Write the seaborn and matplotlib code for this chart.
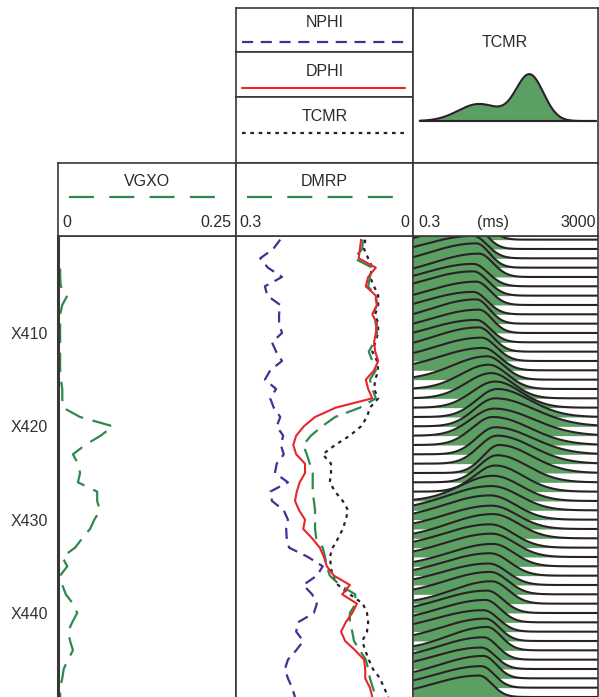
import numpy as np
import pandas as pd
import matplotlib
matplotlib.use("Agg")
import matplotlib.pyplot as plt
import seaborn as sns

# --- log curves, one value per foot (X400 .. X449) ---
depth = list(range(400, 450))

nphi = [0.225, 0.237, 0.259, 0.246, 0.222, 0.251, 0.247, 0.225, 0.227, 0.227,
        0.222, 0.239, 0.232, 0.222, 0.242, 0.251, 0.232, 0.242, 0.236, 0.225,
        0.231, 0.220, 0.224, 0.219, 0.231, 0.234, 0.212, 0.242, 0.239, 0.219,
        0.212, 0.215, 0.214, 0.210, 0.178, 0.153, 0.163, 0.186, 0.171, 0.163,
        0.168, 0.195, 0.198, 0.186, 0.198, 0.212, 0.217, 0.212, 0.205, 0.200]

dphi = [0.088, 0.090, 0.092, 0.063, 0.076, 0.080, 0.063, 0.061, 0.069, 0.061,
        0.063, 0.066, 0.064, 0.059, 0.066, 0.080, 0.076, 0.069, 0.131, 0.166,
        0.185, 0.198, 0.203, 0.198, 0.183, 0.183, 0.192, 0.197, 0.200, 0.193,
        0.183, 0.186, 0.171, 0.158, 0.151, 0.146, 0.134, 0.107, 0.120, 0.095,
        0.103, 0.114, 0.122, 0.115, 0.098, 0.083, 0.081, 0.081, 0.073, 0.069]

dmrp = [0.085, 0.086, 0.100, 0.069, 0.073, 0.076, 0.064, 0.061, 0.068, 0.063,
        0.061, 0.066, 0.075, 0.069, 0.063, 0.073, 0.069, 0.063, 0.090, 0.132,
        0.154, 0.173, 0.186, 0.180, 0.175, 0.170, 0.170, 0.170, 0.168, 0.166,
        0.166, 0.166, 0.164, 0.153, 0.149, 0.146, 0.141, 0.124, 0.098, 0.097,
        0.107, 0.107, 0.103, 0.100, 0.090, 0.080, 0.076, 0.073, 0.068, 0.063]

tcmr = [0.081, 0.083, 0.076, 0.069, 0.073, 0.066, 0.059, 0.059, 0.064, 0.059,
        0.059, 0.064, 0.069, 0.061, 0.059, 0.064, 0.066, 0.059, 0.073, 0.078,
        0.088, 0.107, 0.132, 0.153, 0.139, 0.139, 0.141, 0.132, 0.119, 0.110,
        0.114, 0.119, 0.127, 0.136, 0.141, 0.139, 0.137, 0.127, 0.107, 0.085,
        0.078, 0.076, 0.078, 0.086, 0.081, 0.075, 0.068, 0.056, 0.049, 0.042]

vgxo = [0.000, 0.000, 0.001, 0.003, 0.003, 0.004, 0.013, 0.006, 0.003, 0.003,
        0.003, 0.003, 0.003, 0.003, 0.003, 0.004, 0.006, 0.006, 0.007, 0.031,
        0.077, 0.060, 0.038, 0.021, 0.028, 0.031, 0.028, 0.055, 0.055, 0.059,
        0.051, 0.045, 0.034, 0.024, 0.006, 0.013, 0.003, 0.006, 0.011, 0.021,
        0.027, 0.020, 0.014, 0.017, 0.021, 0.014, 0.008, 0.006, 0.003, 0.003]

# --- T2 distributions per foot: peak (ms), height (in feet), left/right width (decades) ---
t2_peak_ms = [7, 6, 6, 7, 8, 6, 6, 7, 6, 7,
              8, 7, 8, 9, 10, 12, 13, 15, 18, 20,
              18, 17, 16, 18, 20, 22, 20, 18, 16, 15,
              14, 15, 16, 14, 15, 16, 14, 13, 14, 15,
              12, 11, 10, 11, 12, 10, 9, 10, 9, 8]
t2_amp = [2.4, 2.5, 2.4, 2.6, 2.5, 2.4, 2.6, 2.5, 2.4, 2.6,
          2.5, 2.4, 2.6, 2.5, 2.4, 2.5, 2.6, 2.7, 2.8, 3.0,
          3.0, 2.9, 3.0, 2.9, 3.0, 3.0, 2.9, 2.8, 2.7, 2.6,
          2.6, 2.5, 2.6, 2.5, 2.5, 2.4, 2.4, 2.3, 2.4, 2.4,
          2.4, 2.4, 2.3, 2.4, 2.5, 2.4, 2.3, 2.4, 2.3, 2.3]
t2_left_w = [1.05, 1.05, 1.1, 1.05, 1.0, 1.05, 1.1, 1.05, 1.05, 1.0,
             1.05, 1.05, 1.0, 1.0, 0.95, 0.75, 0.6, 0.55, 0.5, 0.45,
             0.45, 0.5, 0.45, 0.4, 0.4, 0.35, 0.4, 0.45, 0.7, 0.95,
             1.0, 1.0, 0.95, 1.0, 1.0, 0.95, 1.0, 1.0, 0.95, 0.85,
             1.0, 1.0, 1.05, 0.95, 0.85, 0.95, 1.0, 0.95, 1.0, 1.0]
t2_right_w = [0.28, 0.28, 0.30, 0.28, 0.30, 0.32, 0.32, 0.30, 0.30, 0.28,
              0.28, 0.30, 0.30, 0.32, 0.34, 0.36, 0.40, 0.45, 0.55, 0.70,
              0.85, 0.85, 0.80, 0.80, 0.75, 0.70, 0.65, 0.60, 0.60, 0.60,
              0.55, 0.55, 0.55, 0.50, 0.50, 0.45, 0.42, 0.40, 0.38, 0.36,
              0.34, 0.32, 0.32, 0.30, 0.30, 0.30, 0.30, 0.28, 0.28, 0.28]

# header sample distribution (two modes)
hdr_peak_ms = [8, 100]
hdr_amp = [0.37, 1.0]
hdr_width = [0.45, 0.30]

depth_ticks = [410, 420, 430, 440]
depth_labels = ["X410", "X420", "X430", "X440"]

EDGE = "#3a3638"
GREEN_FILL = "#5c9f62"
GREEN_LINE = "#2e8a4c"
PURPLE = "#4a2c92"
RED = "#e8252c"
DARK = "#2a2028"
TXT = "#2a2a2a"
FS = 11.5

sns.set_style("white")
plt.rcParams["font.family"] = ["Liberation Sans", "DejaVu Sans"]
plt.rcParams["lines.scale_dashes"] = False

logs = pd.DataFrame({"depth": depth, "NPHI": nphi, "DPHI": dphi,
                     "DMRP": dmrp, "TCMR": tcmr, "VGXO": vgxo})

W, H = 599, 697
fig = plt.figure(figsize=(W / 100, H / 100), dpi=100)


def box(x0, y0, x1, y1, lw=1.2):
    ax = fig.add_axes([x0 / W, 1 - y1 / H, (x1 - x0) / W, (y1 - y0) / H])
    ax.set_xticks([])
    ax.set_yticks([])
    for s in ax.spines.values():
        s.set_linewidth(lw)
        s.set_color(EDGE)
    return ax


def label(ax, x, y, s, ha="center"):
    ax.text(x, y, s, ha=ha, va="center", fontsize=FS, color=TXT, transform=ax.transAxes)


def t2_shape(logt, mu, wl, wr):
    w = np.where(logt < mu, wl, wr)
    return np.exp(-0.5 * ((logt - mu) / w) ** 2)


TOP, BOT = 399.61, 449.0

# ---------------- data tracks ----------------
ax1 = box(58, 236, 236, 697)
ax2 = box(236, 236, 413, 697)
ax3 = box(413, 236, 598, 697)
ax1.spines["left"].set_linewidth(2.2)

sns.lineplot(data=logs, x="VGXO", y="depth", orient="y", sort=False, estimator=None,
             ax=ax1, color=GREEN_LINE, lw=1.6, linestyle=(0, (14, 7)))
ax1.set_xlim(0, 0.25)

sns.lineplot(data=logs, x="NPHI", y="depth", orient="y", sort=False, estimator=None,
             ax=ax2, color=PURPLE, lw=1.6, linestyle=(0, (8, 5)))
sns.lineplot(data=logs, x="TCMR", y="depth", orient="y", sort=False, estimator=None,
             ax=ax2, color=DARK, lw=1.6, linestyle=(0, (2.6, 3.4)))
sns.lineplot(data=logs, x="DMRP", y="depth", orient="y", sort=False, estimator=None,
             ax=ax2, color=GREEN_LINE, lw=1.6, linestyle=(0, (12, 6)))
sns.lineplot(data=logs, x="DPHI", y="depth", orient="y", sort=False, estimator=None,
             ax=ax2, color=RED, lw=1.5)
ax2.set_xlim(0.3, 0)

# T2 waveforms
t2 = np.logspace(np.log10(0.3), np.log10(3000), 300)
lt = np.log10(t2)
curves = []
for d, pk, a, wl, wr in zip(depth, t2_peak_ms, t2_amp, t2_left_w, t2_right_w):
    c = d - a * t2_shape(lt, np.log10(pk), wl, wr)
    curves.append(c)
    ax3.fill_between(t2, d, c, color=GREEN_FILL, lw=0, zorder=1)
for c in curves:
    ax3.plot(t2, c, color=DARK, lw=1.5, zorder=2)
ax3.set_xscale("log")
ax3.set_xlim(0.3, 3000)
ax3.minorticks_off()

for ax in (ax1, ax2, ax3):
    ax.set_ylim(BOT, TOP)
    ax.set_xlabel("")
    ax.set_ylabel("")
    ax.set_xticks([])
    ax.set_yticks([])
    ax.spines["bottom"].set_visible(False)

ax1.set_yticks(depth_ticks)
ax1.set_yticklabels(depth_labels, fontsize=11.5, color="#333333")
ax1.tick_params(axis="y", length=0, pad=7)

# ---------------- header boxes ----------------
h_np = box(236, 8, 413, 52)
h_dp = box(236, 52, 413, 97)
h_tc = box(236, 97, 413, 163)
h_wave = box(413, 8, 598, 163)
h_vg = box(58, 163, 236, 236)
h_dm = box(236, 163, 413, 236)
h_sc = box(413, 163, 598, 236)

label(h_np, 0.5, 0.68, "NPHI")
h_np.plot([0.035, 0.955], [0.23, 0.23], transform=h_np.transAxes, color=PURPLE,
          lw=1.6, linestyle=(0, (8, 5.5)))
label(h_dp, 0.5, 0.56, "DPHI")
h_dp.plot([0.035, 0.955], [0.20, 0.20], transform=h_dp.transAxes, color=RED, lw=1.5)
label(h_tc, 0.5, 0.70, "TCMR")
h_tc.plot([0.035, 0.955], [0.455, 0.455], transform=h_tc.transAxes, color=DARK,
          lw=1.6, linestyle=(0, (2.6, 3.4)))

label(h_wave, 0.497, 0.78, "TCMR")
tw = np.logspace(np.log10(0.42), np.log10(2700), 300)
hw = np.zeros_like(tw)
for pk, a, w in zip(hdr_peak_ms, hdr_amp, hdr_width):
    hw += a * np.exp(-0.5 * ((np.log10(tw) - np.log10(pk)) / w) ** 2)
h_wave.set_xscale("log")
h_wave.fill_between(tw, 0, hw, color=GREEN_FILL, lw=0)
h_wave.plot(tw, hw, color=DARK, lw=1.5)
h_wave.plot([tw[0], tw[-1]], [0, 0], color=DARK, lw=1.5)
h_wave.set_xlim(0.3, 3000)
h_wave.set_ylim(-0.913, 2.457)
h_wave.minorticks_off()
h_wave.set_xticks([])
h_wave.set_yticks([])

label(h_vg, 0.5, 0.74, "VGXO")
h_vg.plot([0.06, 0.9], [0.534, 0.534], transform=h_vg.transAxes, color=GREEN_LINE,
          lw=1.6, linestyle=(0, (18, 11)))
label(h_vg, 0.025, 0.19, "0", ha="left")
label(h_vg, 0.975, 0.19, "0.25", ha="right")

label(h_dm, 0.5, 0.74, "DMRP")
h_dm.plot([0.06, 0.92], [0.534, 0.534], transform=h_dm.transAxes, color=GREEN_LINE,
          lw=1.6, linestyle=(0, (18, 11)))
label(h_dm, 0.02, 0.19, "0.3", ha="left")
label(h_dm, 0.98, 0.19, "0", ha="right")

label(h_sc, 0.027, 0.19, "0.3", ha="left")
label(h_sc, 0.43, 0.19, "(ms)")
label(h_sc, 0.99, 0.19, "3000", ha="right")

fig.savefig("out.png", dpi=100)
